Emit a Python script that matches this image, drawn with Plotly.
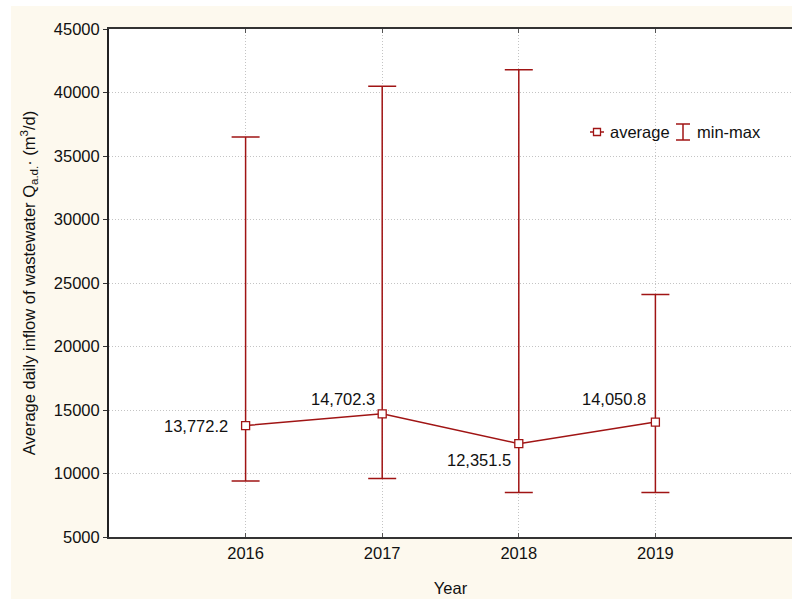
import plotly.graph_objects as go

# Yearly statistics of average daily wastewater inflow (m3/d)
years = [2016, 2017, 2018, 2019]
average = [13772.2, 14702.3, 12351.5, 14050.8]
minimum = [9400, 9600, 8500, 8500]
maximum = [36500, 40500, 41800, 24100]
labels = ["13,772.2", "14,702.3", "12,351.5", "14,050.8"]
label_shift = [(-50, 0), (-39, 15), (-40, -16), (-41, 23)]

y_ticks = list(range(5000, 45001, 5000))
y_ticktext = [str(v) for v in y_ticks]

RED = "#A01414"
FONT = "Liberation Sans, Arial, sans-serif"
FS = 16.5

W, H = 792, 599
L, R, T, B = 109, 0, 29, 62
PW, PH = W - L - R, H - T - B


def px(x):
    return (x - L) / PW


def py(y):
    return (H - B - y) / PH


fig = go.Figure()
fig.add_trace(go.Scatter(
    x=years, y=average, mode="lines",
    line=dict(color=RED, width=1.5),
    error_y=dict(type="data", symmetric=False,
                 array=[mx - a for mx, a in zip(maximum, average)],
                 arrayminus=[a - mn for mn, a in zip(minimum, average)],
                 color=RED, thickness=1.5, width=14),
    showlegend=False, cliponaxis=False,
))
# open square markers with white fill
fig.add_trace(go.Scatter(
    x=years, y=average, mode="markers",
    marker=dict(symbol="square", size=8, color="white",
                line=dict(width=1.3, color=RED)),
    showlegend=False, cliponaxis=False,
))

annotations = []
for xv, yv, txt, (dx, dy) in zip(years, average, labels, label_shift):
    annotations.append(dict(x=xv, y=yv, xref="x", yref="y", text=txt,
                            showarrow=False, xshift=dx, yshift=dy,
                            font=dict(size=FS, color="#111", family=FONT)))

# legend
annotations.append(dict(x=px(608), y=py(132), xref="paper", yref="paper",
                        text="average", showarrow=False, xanchor="left",
                        yanchor="middle", font=dict(size=FS, color="#111", family=FONT)))
annotations.append(dict(x=px(695), y=py(132), xref="paper", yref="paper",
                        text="min-max", showarrow=False, xanchor="left",
                        yanchor="middle", font=dict(size=FS, color="#111", family=FONT)))

shapes = [
    # cream page background and white plotting area
    dict(type="rect", xref="paper", yref="paper", x0=px(11), x1=px(W + 5),
         y0=py(H + 5), y1=py(6), fillcolor="#FDF9EE", line=dict(width=0), layer="below"),
    dict(type="rect", xref="paper", yref="paper", x0=0, x1=1, y0=0, y1=1,
         fillcolor="white", line=dict(width=0), layer="below"),
    # legend glyphs
    dict(type="line", xref="paper", yref="paper", x0=px(590), x1=px(604),
         y0=py(132), y1=py(132), line=dict(color=RED, width=1.5)),
    dict(type="rect", xref="paper", yref="paper", x0=px(593.5), x1=px(600.5),
         y0=py(135.5), y1=py(128.5), fillcolor="white", line=dict(color=RED, width=1.3)),
    dict(type="line", xref="paper", yref="paper", x0=px(683), x1=px(683),
         y0=py(124), y1=py(140), line=dict(color=RED, width=1.5)),
    dict(type="line", xref="paper", yref="paper", x0=px(676), x1=px(690),
         y0=py(124), y1=py(124), line=dict(color=RED, width=1.5)),
    dict(type="line", xref="paper", yref="paper", x0=px(676), x1=px(690),
         y0=py(140), y1=py(140), line=dict(color=RED, width=1.5)),
]

fig.update_layout(
    width=W, height=H,
    margin=dict(l=L, r=R, t=T, b=B, pad=0),
    paper_bgcolor="white", plot_bgcolor="rgba(0,0,0,0)",
    font=dict(family=FONT, size=FS, color="#111"),
    annotations=annotations, shapes=shapes,
    xaxis=dict(range=[2015, 2020], tickvals=years, ticktext=[str(y) for y in years],
               showline=True, linecolor="#333", linewidth=2, mirror="ticks",
               ticks="inside", ticklen=4, tickcolor="#555",
               showgrid=True, gridcolor="#c4c4c4", griddash="1px,2px", gridwidth=1,
               zeroline=False, tickfont=dict(size=FS),
               title=dict(text="Year", font=dict(size=FS), standoff=22)),
    yaxis=dict(range=[5000, 45000], tickvals=y_ticks, ticktext=y_ticktext,
               showline=True, linecolor="#222", linewidth=2,
               ticks="outside", ticklen=4, tickcolor="#333",
               showgrid=True, gridcolor="#c4c4c4", griddash="1px,2px", gridwidth=1,
               zeroline=False, tickfont=dict(size=FS),
               title=dict(text="Average daily inflow of wastewater Q<sub>a.d.</sub>· (m<sup>3</sup>/d)",
                          font=dict(size=FS), standoff=14)),
)

fig.write_html("out.html")
